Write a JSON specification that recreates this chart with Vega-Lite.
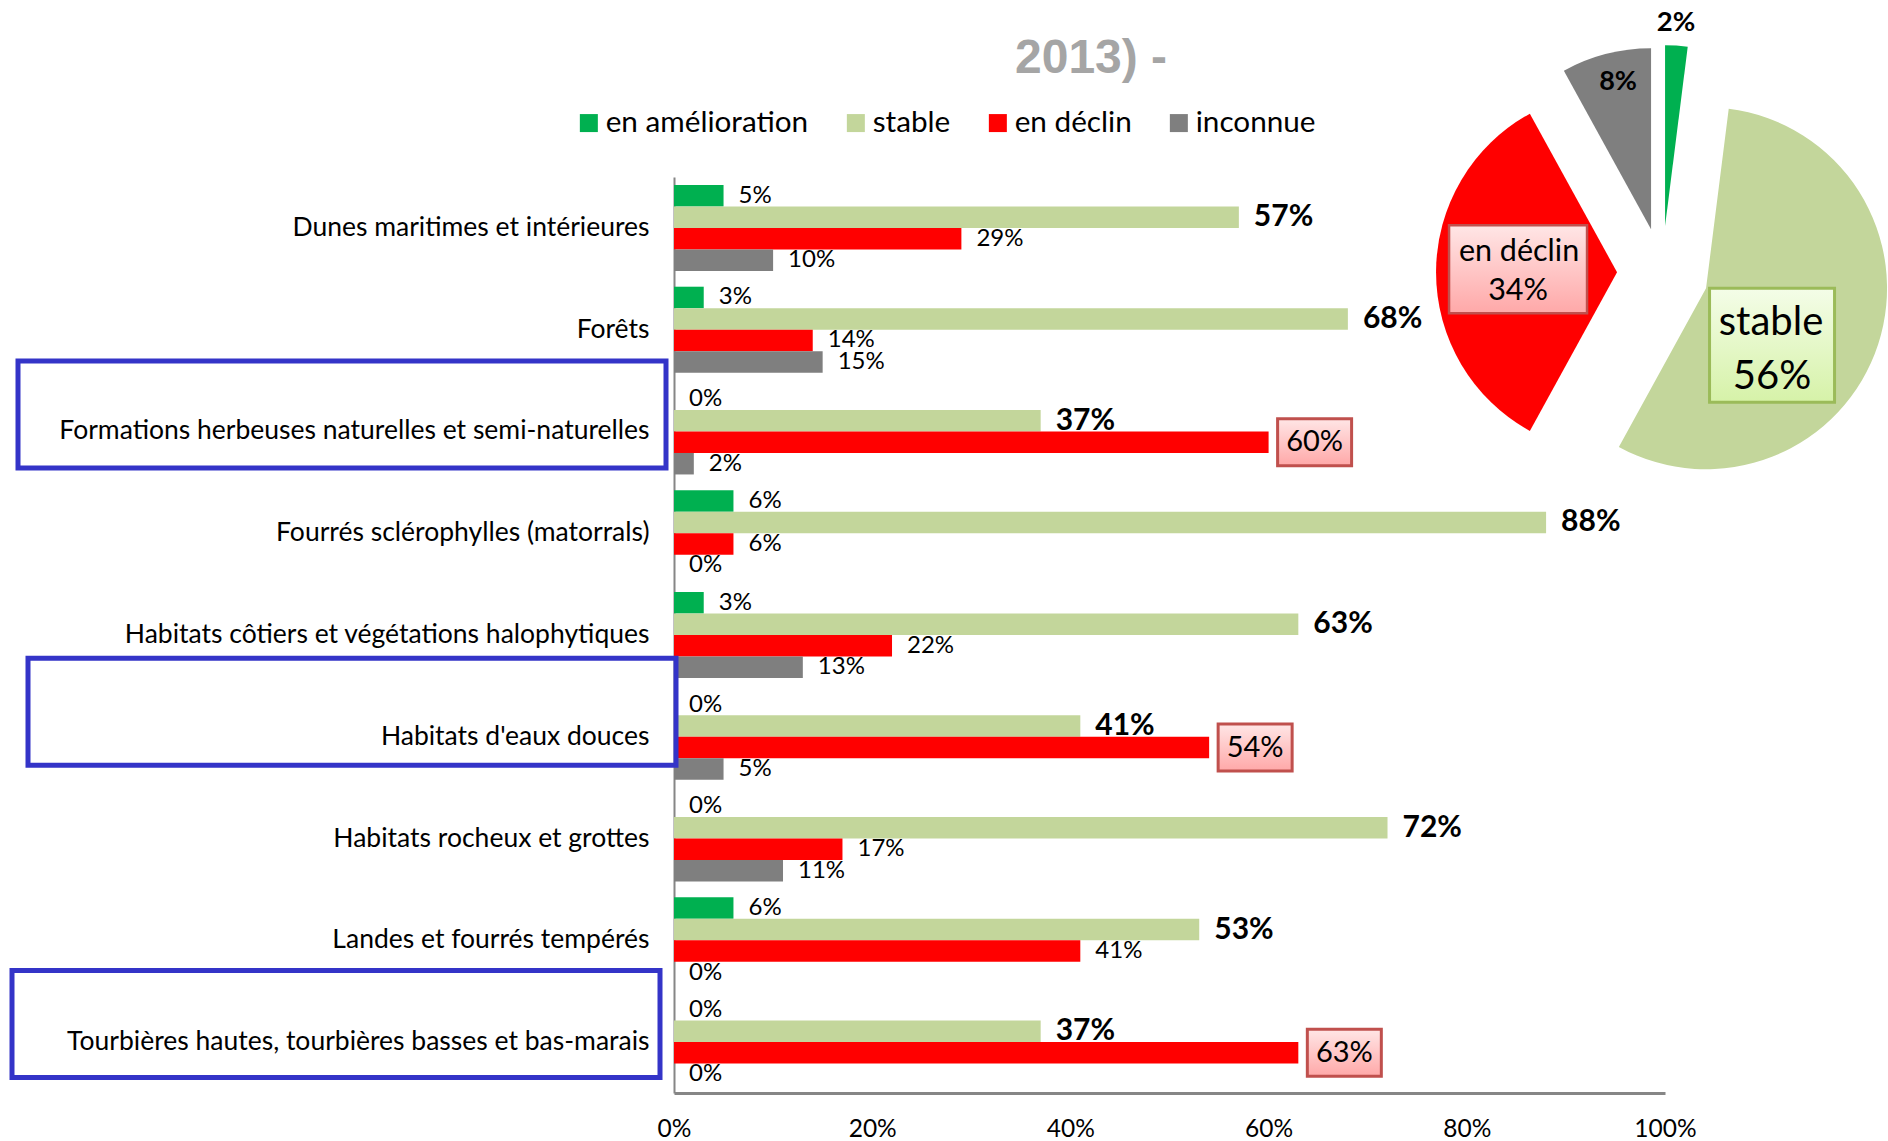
{
  "$schema": "https://vega.github.io/schema/vega-lite/v6.json",
  "autosize": {"type": "none"},
  "width": 991,
  "height": 916,
  "padding": {"left": 674, "top": 177, "right": 223, "bottom": 48},
  "background": "white",
  "title": {
    "text": "2013) -",
    "anchor": "start",
    "frame": "group",
    "dx": 341,
    "dy": 78,
    "font": "Liberation Sans",
    "fontSize": 48,
    "fontWeight": "bold",
    "color": "#a5a5a5"
  },
  "config": {"view": {"stroke": null}, "font": "Lato"},
  "datasets": {
    "habitats": [
      {"habitat": "Dunes maritimes et intérieures", "tendance": "en amélioration", "part": 0.05},
      {"habitat": "Dunes maritimes et intérieures", "tendance": "stable", "part": 0.57},
      {"habitat": "Dunes maritimes et intérieures", "tendance": "en déclin", "part": 0.29},
      {"habitat": "Dunes maritimes et intérieures", "tendance": "inconnue", "part": 0.10},
      {"habitat": "Forêts", "tendance": "en amélioration", "part": 0.03},
      {"habitat": "Forêts", "tendance": "stable", "part": 0.68},
      {"habitat": "Forêts", "tendance": "en déclin", "part": 0.14},
      {"habitat": "Forêts", "tendance": "inconnue", "part": 0.15},
      {"habitat": "Formations herbeuses naturelles et semi-naturelles", "tendance": "en amélioration", "part": 0},
      {"habitat": "Formations herbeuses naturelles et semi-naturelles", "tendance": "stable", "part": 0.37},
      {"habitat": "Formations herbeuses naturelles et semi-naturelles", "tendance": "en déclin", "part": 0.60},
      {"habitat": "Formations herbeuses naturelles et semi-naturelles", "tendance": "inconnue", "part": 0.02},
      {"habitat": "Fourrés sclérophylles (matorrals)", "tendance": "en amélioration", "part": 0.06},
      {"habitat": "Fourrés sclérophylles (matorrals)", "tendance": "stable", "part": 0.88},
      {"habitat": "Fourrés sclérophylles (matorrals)", "tendance": "en déclin", "part": 0.06},
      {"habitat": "Fourrés sclérophylles (matorrals)", "tendance": "inconnue", "part": 0},
      {"habitat": "Habitats côtiers et végétations halophytiques", "tendance": "en amélioration", "part": 0.03},
      {"habitat": "Habitats côtiers et végétations halophytiques", "tendance": "stable", "part": 0.63},
      {"habitat": "Habitats côtiers et végétations halophytiques", "tendance": "en déclin", "part": 0.22},
      {"habitat": "Habitats côtiers et végétations halophytiques", "tendance": "inconnue", "part": 0.13},
      {"habitat": "Habitats d'eaux douces", "tendance": "en amélioration", "part": 0},
      {"habitat": "Habitats d'eaux douces", "tendance": "stable", "part": 0.41},
      {"habitat": "Habitats d'eaux douces", "tendance": "en déclin", "part": 0.54},
      {"habitat": "Habitats d'eaux douces", "tendance": "inconnue", "part": 0.05},
      {"habitat": "Habitats rocheux et grottes", "tendance": "en amélioration", "part": 0},
      {"habitat": "Habitats rocheux et grottes", "tendance": "stable", "part": 0.72},
      {"habitat": "Habitats rocheux et grottes", "tendance": "en déclin", "part": 0.17},
      {"habitat": "Habitats rocheux et grottes", "tendance": "inconnue", "part": 0.11},
      {"habitat": "Landes et fourrés tempérés", "tendance": "en amélioration", "part": 0.06},
      {"habitat": "Landes et fourrés tempérés", "tendance": "stable", "part": 0.53},
      {"habitat": "Landes et fourrés tempérés", "tendance": "en déclin", "part": 0.41},
      {"habitat": "Landes et fourrés tempérés", "tendance": "inconnue", "part": 0},
      {"habitat": "Tourbières hautes, tourbières basses et bas-marais", "tendance": "en amélioration", "part": 0},
      {"habitat": "Tourbières hautes, tourbières basses et bas-marais", "tendance": "stable", "part": 0.37},
      {"habitat": "Tourbières hautes, tourbières basses et bas-marais", "tendance": "en déclin", "part": 0.63},
      {"habitat": "Tourbières hautes, tourbières basses et bas-marais", "tendance": "inconnue", "part": 0}
    ],
    "pie": [
      {"tendance": "en amélioration", "share": 0.02},
      {"tendance": "stable", "share": 0.56},
      {"tendance": "en déclin", "share": 0.34},
      {"tendance": "inconnue", "share": 0.08}
    ]
  },
  "layer": [
    {
      "data": {"name": "habitats"},
      "encoding": {
        "y": {
          "field": "habitat", "type": "nominal", "sort": null,
          "scale": {"paddingInner": 0.155, "paddingOuter": 0.078},
          "axis": {"title": null, "ticks": false, "grid": false, "labelPadding": 25, "labelFontSize": 26.5, "labelFont": "Lato", "labelColor": "black", "labelLimit": 800, "domainColor": "#868686", "domainWidth": 2}
        },
        "x": {
          "field": "part", "type": "quantitative",
          "scale": {"domain": [0, 1], "nice": false},
          "axis": {"title": null, "format": ".0%", "values": [0, 0.2, 0.4, 0.6, 0.8, 1], "ticks": false, "grid": false, "labelPadding": 24, "labelFontSize": 24.5, "labelFont": "Lato", "labelColor": "black", "labelFlush": false, "labelOverlap": false, "domainColor": "#868686", "domainWidth": 3}
        }
      },
      "layer": [
        {
          "mark": {"type": "bar"},
          "encoding": {
            "yOffset": {"field": "tendance", "type": "nominal", "scale": {"domain": ["en amélioration", "stable", "en déclin", "inconnue"], "paddingInner": 0, "paddingOuter": 0}},
            "color": {
              "field": "tendance", "type": "nominal",
              "scale": {"domain": ["en amélioration", "stable", "en déclin", "inconnue"], "range": ["#00b050", "#c3d69b", "#ff0000", "#7f7f7f"]},
              "legend": {"title": null, "orient": "none", "legendX": -100, "legendY": -69, "direction": "horizontal", "symbolType": "square", "symbolSize": 324, "symbolStrokeWidth": 0, "labelFont": "Lato", "labelFontSize": 29.7, "labelColor": "black", "labelOffset": 2, "columnPadding": 32, "padding": 0, "labelLimit": 400}
            }
          }
        },
        {
          "transform": [{"filter": "datum.tendance !== 'stable' && !(datum.tendance === 'en déclin' && datum.part >= 0.5)"}],
          "mark": {"type": "text", "align": "left", "baseline": "middle", "dx": 15, "fontSize": 24, "font": "Lato", "color": "black"},
          "encoding": {
            "yOffset": {"field": "tendance", "type": "nominal", "scale": {"domain": ["en amélioration", "stable", "en déclin", "inconnue"], "paddingInner": 0, "paddingOuter": 0}},
            "text": {"field": "part", "type": "quantitative", "format": ".0%"}
          }
        },
        {
          "transform": [{"filter": {"field": "tendance", "equal": "stable"}}],
          "mark": {"type": "text", "align": "left", "baseline": "middle", "dx": 15, "fontSize": 30, "fontWeight": "bold", "font": "Lato", "color": "black"},
          "encoding": {
            "yOffset": {"field": "tendance", "type": "nominal", "scale": {"domain": ["en amélioration", "stable", "en déclin", "inconnue"], "paddingInner": 0, "paddingOuter": 0}},
            "text": {"field": "part", "type": "quantitative", "format": ".0%"}
          }
        },
        {
          "transform": [{"filter": "datum.tendance === 'en déclin' && datum.part >= 0.5"}],
          "mark": {
            "type": "point", "shape": "M-1,-0.635H1V0.635H-1Z", "size": 5476, "filled": true, "opacity": 1, "xOffset": 46,
            "fill": {"gradient": "linear", "x1": 0, "y1": 0, "x2": 0, "y2": 1, "stops": [{"offset": 0, "color": "#ffe6e6"}, {"offset": 1, "color": "#ffa8a8"}]},
            "stroke": "#c0504d", "strokeWidth": 3
          },
          "encoding": {
            "yOffset": {"field": "tendance", "type": "nominal", "scale": {"domain": ["en amélioration", "stable", "en déclin", "inconnue"], "paddingInner": 0, "paddingOuter": 0}}
          }
        },
        {
          "transform": [{"filter": "datum.tendance === 'en déclin' && datum.part >= 0.5"}],
          "mark": {"type": "text", "align": "center", "baseline": "middle", "dx": 46, "fontSize": 29, "font": "Lato", "color": "black"},
          "encoding": {
            "yOffset": {"field": "tendance", "type": "nominal", "scale": {"domain": ["en amélioration", "stable", "en déclin", "inconnue"], "paddingInner": 0, "paddingOuter": 0}},
            "text": {"field": "part", "type": "quantitative", "format": ".0%"}
          }
        },
        {
          "transform": [{"filter": {"field": "habitat", "equal": "Formations herbeuses naturelles et semi-naturelles"}}, {"filter": {"field": "tendance", "equal": "stable"}}],
          "mark": {"type": "point", "shape": "M-1,-0.165H1V0.165H-1Z", "size": 419904, "filled": false, "opacity": 1, "fill": null, "stroke": "#3434c8", "strokeWidth": 5, "xOffset": -332, "yOffset": -17},
          "encoding": {"x": {"datum": 0, "type": "quantitative"}}
        },
        {
          "transform": [{"filter": {"field": "habitat", "equal": "Habitats d'eaux douces"}}, {"filter": {"field": "tendance", "equal": "stable"}}],
          "mark": {"type": "point", "shape": "M-1,-0.165H1V0.165H-1Z", "size": 419904, "filled": false, "opacity": 1, "fill": null, "stroke": "#3434c8", "strokeWidth": 5, "xOffset": -322, "yOffset": -25},
          "encoding": {"x": {"datum": 0, "type": "quantitative"}}
        },
        {
          "transform": [{"filter": {"field": "habitat", "equal": "Tourbières hautes, tourbières basses et bas-marais"}}, {"filter": {"field": "tendance", "equal": "stable"}}],
          "mark": {"type": "point", "shape": "M-1,-0.165H1V0.165H-1Z", "size": 419904, "filled": false, "opacity": 1, "fill": null, "stroke": "#3434c8", "strokeWidth": 5, "xOffset": -338, "yOffset": -18},
          "encoding": {"x": {"datum": 0, "type": "quantitative"}}
        }
      ]
    },
    {
      "data": {"name": "pie"},
      "transform": [{"stack": "share", "groupby": [], "as": ["v0", "v1"]}],
      "encoding": {
        "x": {"datum": 0.995, "type": "quantitative"},
        "y": {"datum": 0.896, "type": "quantitative", "scale": {"domain": [0, 1], "nice": false, "zero": false}, "axis": null}
      },
      "layer": [
        {
          "transform": [{"filter": {"field": "tendance", "equal": "en amélioration"}}],
          "mark": {"type": "arc", "outerRadius": 181, "innerRadius": 0, "xOffset": 5, "yOffset": -46},
          "encoding": {
            "theta": {"field": "v0", "type": "quantitative", "stack": null, "scale": {"domain": [0, 1]}},
            "theta2": {"field": "v1"},
            "color": {"field": "tendance", "type": "nominal"}
          }
        },
        {
          "transform": [{"filter": {"field": "tendance", "equal": "stable"}}],
          "mark": {"type": "arc", "outerRadius": 181, "innerRadius": 0, "xOffset": 46, "yOffset": 16},
          "encoding": {
            "theta": {"field": "v0", "type": "quantitative", "stack": null, "scale": {"domain": [0, 1]}},
            "theta2": {"field": "v1"},
            "color": {"field": "tendance", "type": "nominal"}
          }
        },
        {
          "transform": [{"filter": {"field": "tendance", "equal": "en déclin"}}],
          "mark": {"type": "arc", "outerRadius": 181, "innerRadius": 0, "xOffset": -43, "yOffset": 0},
          "encoding": {
            "theta": {"field": "v0", "type": "quantitative", "stack": null, "scale": {"domain": [0, 1]}},
            "theta2": {"field": "v1"},
            "color": {"field": "tendance", "type": "nominal"}
          }
        },
        {
          "transform": [{"filter": {"field": "tendance", "equal": "inconnue"}}],
          "mark": {"type": "arc", "outerRadius": 181, "innerRadius": 0, "xOffset": -9, "yOffset": -43},
          "encoding": {
            "theta": {"field": "v0", "type": "quantitative", "stack": null, "scale": {"domain": [0, 1]}},
            "theta2": {"field": "v1"},
            "color": {"field": "tendance", "type": "nominal"}
          }
        },
        {
          "transform": [{"filter": {"field": "tendance", "equal": "en amélioration"}}],
          "mark": {"type": "text", "align": "center", "baseline": "middle", "fontSize": 27.5, "fontWeight": "bold", "font": "Lato", "color": "black", "xOffset": 16, "yOffset": -249},
          "encoding": {"text": {"field": "share", "type": "quantitative", "format": ".0%"}}
        },
        {
          "transform": [{"filter": {"field": "tendance", "equal": "inconnue"}}],
          "mark": {"type": "text", "align": "center", "baseline": "middle", "fontSize": 27, "fontWeight": "bold", "font": "Lato", "color": "black", "xOffset": -42, "yOffset": -190},
          "encoding": {"text": {"field": "share", "type": "quantitative", "format": ".0%"}}
        },
        {
          "transform": [{"filter": {"field": "tendance", "equal": "en déclin"}}],
          "mark": {
            "type": "point", "shape": "M-1,-0.638H1V0.638H-1Z", "size": 19044, "filled": true, "opacity": 1, "xOffset": -142, "yOffset": -3,
            "fill": {"gradient": "linear", "x1": 0, "y1": 0, "x2": 0, "y2": 1, "stops": [{"offset": 0, "color": "#ffe6e6"}, {"offset": 1, "color": "#ffa8a8"}]},
            "stroke": "#c0504d", "strokeWidth": 2.5
          }
        },
        {
          "transform": [{"filter": {"field": "tendance", "equal": "en déclin"}}],
          "mark": {"type": "text", "align": "center", "baseline": "middle", "fontSize": 30.5, "font": "Lato", "color": "black", "xOffset": -141, "yOffset": -20},
          "encoding": {"text": {"field": "tendance", "type": "nominal"}}
        },
        {
          "transform": [{"filter": {"field": "tendance", "equal": "en déclin"}}],
          "mark": {"type": "text", "align": "center", "baseline": "middle", "fontSize": 30.5, "font": "Lato", "color": "black", "xOffset": -142, "yOffset": 19},
          "encoding": {"text": {"field": "share", "type": "quantitative", "format": ".0%"}}
        },
        {
          "transform": [{"filter": {"field": "tendance", "equal": "stable"}}],
          "mark": {
            "type": "point", "shape": "M-1,-0.912H1V0.912H-1Z", "size": 15625, "filled": true, "opacity": 1, "xOffset": 112, "yOffset": 73,
            "fill": {"gradient": "linear", "x1": 0, "y1": 0, "x2": 0, "y2": 1, "stops": [{"offset": 0, "color": "#f4fde8"}, {"offset": 1, "color": "#d6f2a8"}]},
            "stroke": "#9bbb59", "strokeWidth": 3
          }
        },
        {
          "transform": [{"filter": {"field": "tendance", "equal": "stable"}}],
          "mark": {"type": "text", "align": "center", "baseline": "middle", "fontSize": 40, "font": "Lato", "color": "black", "xOffset": 111, "yOffset": 51},
          "encoding": {"text": {"field": "tendance", "type": "nominal"}}
        },
        {
          "transform": [{"filter": {"field": "tendance", "equal": "stable"}}],
          "mark": {"type": "text", "align": "center", "baseline": "middle", "fontSize": 40, "font": "Lato", "color": "black", "xOffset": 112, "yOffset": 105},
          "encoding": {"text": {"field": "share", "type": "quantitative", "format": ".0%"}}
        }
      ]
    }
  ],
  "resolve": {"scale": {"y": "independent"}}
}
